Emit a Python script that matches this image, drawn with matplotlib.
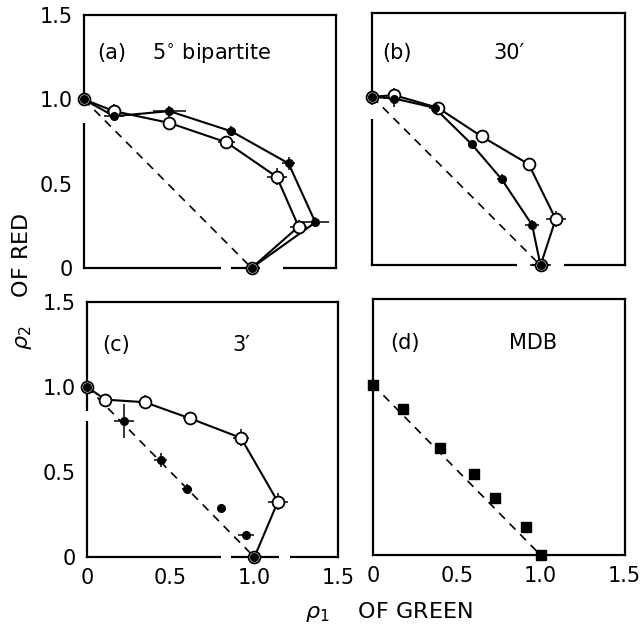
import numpy as np
import matplotlib.pyplot as plt

# (a) 5 deg bipartite
a_fill_x = [0.0, 0.18, 0.51, 0.88, 1.22, 1.38, 1.0]
a_fill_y = [1.0, 0.90, 0.93, 0.81, 0.62, 0.27, 0.0]
a_fill_xerr = [0.03, 0.06, 0.10, 0.03, 0.04, 0.08, 0.03]
a_fill_yerr = [0.03, 0.03, 0.03, 0.03, 0.04, 0.03, 0.0]
a_open_x = [0.0, 0.18, 0.51, 0.85, 1.15, 1.28, 1.0]
a_open_y = [1.0, 0.93, 0.86, 0.745, 0.54, 0.245, 0.0]
a_open_xerr = [0.0, 0.04, 0.04, 0.05, 0.06, 0.05, 0.03]
a_open_yerr = [0.0, 0.04, 0.04, 0.04, 0.05, 0.04, 0.02]

# (b) 30'
b_fill_x = [0.0, 0.13, 0.37, 0.59, 0.77, 0.95, 1.0]
b_fill_y = [1.0, 0.99, 0.935, 0.72, 0.51, 0.24, 0.0]
b_fill_xerr = [0.04, 0.03, 0.03, 0.02, 0.03, 0.04, 0.06]
b_fill_yerr = [0.05, 0.05, 0.02, 0.02, 0.03, 0.03, 0.03]
b_open_x = [0.0, 0.13, 0.39, 0.65, 0.93, 1.09, 1.0]
b_open_y = [1.0, 1.01, 0.935, 0.765, 0.60, 0.275, 0.0]
b_open_xerr = [0.0, 0.03, 0.02, 0.02, 0.02, 0.06, 0.05]
b_open_yerr = [0.0, 0.04, 0.02, 0.02, 0.02, 0.05, 0.03]

# (c) 3'
c_fill_x = [0.0, 0.22, 0.44, 0.60, 0.80, 0.95, 1.0]
c_fill_y = [1.0, 0.80, 0.57, 0.40, 0.29, 0.13, 0.0]
c_fill_xerr = [0.02, 0.06, 0.04, 0.03, 0.0, 0.05, 0.05]
c_fill_yerr = [0.02, 0.10, 0.04, 0.03, 0.0, 0.02, 0.0]
c_open_x = [0.0, 0.11, 0.345, 0.615, 0.92, 1.14, 1.0]
c_open_y = [1.0, 0.925, 0.91, 0.815, 0.70, 0.325, 0.0]
c_open_xerr = [0.0, 0.02, 0.04, 0.04, 0.05, 0.06, 0.0]
c_open_yerr = [0.0, 0.02, 0.04, 0.04, 0.05, 0.05, 0.0]

# (d) MDB
d_x = [0.0, 0.18, 0.40, 0.60, 0.73, 0.91, 1.0]
d_y = [1.0, 0.855, 0.63, 0.475, 0.335, 0.165, 0.0]
d_xerr = [0.0, 0.02, 0.0, 0.0, 0.0, 0.02, 0.0]
d_yerr = [0.0, 0.02, 0.0, 0.0, 0.0, 0.02, 0.0]

ticks = [0, 0.5, 1.0, 1.5]
tick_labels = ['0', '0.5', '1.0', '1.5']

plt.rcParams['font.family'] = ['DejaVu Sans']

fig = plt.figure(figsize=(6.44, 6.26), dpi=100)
fig.patch.set_facecolor('white')


def setup(ax, xlab, ylab, left_gaps=(), bottom_gaps=()):
    ax.set_xlim(0, 1.5)
    ax.set_ylim(0, 1.5)
    for s in ax.spines.values():
        s.set_linewidth(1.6)
    ax.set_xticks(ticks)
    ax.set_yticks(ticks)
    ax.set_xticks([0.5, 1.0], minor=True)
    ax.set_yticks([0.5, 1.0], minor=True)
    ax.tick_params(which='major', length=0, labelsize=15, pad=8)
    ax.tick_params(which='minor', direction='in', length=9, width=1.6,
                   top=True, right=True)
    if xlab:
        ax.set_xticklabels(tick_labels)
    else:
        ax.set_xticklabels([])
    if ylab:
        ax.set_yticklabels(tick_labels)
    else:
        ax.set_yticklabels([])
    # breaks in the printed axis lines
    for g0, g1 in left_gaps:
        ax.plot([0, 0], [g0, g1], color='white', lw=3, zorder=2.55,
                clip_on=False, solid_capstyle='butt')
    for g0, g1 in bottom_gaps:
        ax.plot([g0, g1], [0, 0], color='white', lw=3, zorder=2.55,
                clip_on=False, solid_capstyle='butt')
    # diagonal reference line
    ax.plot([0, 1], [1, 0], ls=(0, (5, 4)), color='black', lw=1.2, zorder=1)


def pts(ax, x, y, xerr, yerr, filled, line=True):
    if line:
        ax.plot(x, y, color='black', lw=1.5, zorder=2.7, clip_on=False)
    ax.errorbar(x, y, xerr=xerr, yerr=yerr, fmt='none', ecolor='black',
                elinewidth=1.1, capsize=0, zorder=2.8, clip_on=False)
    if filled:
        ax.plot(x, y, 'o', ms=5.5, color='black', zorder=4, clip_on=False)
    else:
        ax.plot(x, y, 'o', ms=8.5, mfc='white', mec='black', mew=1.3,
                zorder=3, clip_on=False)


ax_a = fig.add_axes([0.130, 0.572, 0.391, 0.404])
setup(ax_a, False, True, left_gaps=[(0.86, 0.97)],
      bottom_gaps=[(0.82, 0.88), (1.05, 1.19)])
pts(ax_a, a_open_x, a_open_y, a_open_xerr, a_open_yerr, False)
pts(ax_a, a_fill_x, a_fill_y, a_fill_xerr, a_fill_yerr, True)
ax_a.text(0.055, 0.85, '(a)', transform=ax_a.transAxes, fontsize=15, va='center')
ax_a.text(0.27, 0.85, '5$^{\\circ}$ bipartite', transform=ax_a.transAxes,
          fontsize=15, va='center')

ax_b = fig.add_axes([0.578, 0.576, 0.392, 0.404])
setup(ax_b, False, False, left_gaps=[(0.87, 0.97)],
      bottom_gaps=[(0.86, 0.95), (1.04, 1.14)])
pts(ax_b, b_open_x, b_open_y, b_open_xerr, b_open_yerr, False)
pts(ax_b, b_fill_x, b_fill_y, b_fill_xerr, b_fill_yerr, True)
ax_b.text(0.04, 0.84, '(b)', transform=ax_b.transAxes, fontsize=15, va='center')
ax_b.text(0.48, 0.84, "30\u2032", transform=ax_b.transAxes, fontsize=15, va='center')

ax_c = fig.add_axes([0.135, 0.110, 0.390, 0.408])
setup(ax_c, True, True, left_gaps=[(0.80, 0.86)],
      bottom_gaps=[(0.80, 0.86), (1.15, 1.21)])
pts(ax_c, c_open_x, c_open_y, c_open_xerr, c_open_yerr, False)
pts(ax_c, c_fill_x, c_fill_y, c_fill_xerr, c_fill_yerr, True, line=False)
ax_c.text(0.06, 0.83, '(c)', transform=ax_c.transAxes, fontsize=15, va='center')
ax_c.text(0.58, 0.83, "3\u2032", transform=ax_c.transAxes, fontsize=15, va='center')

ax_d = fig.add_axes([0.579, 0.113, 0.391, 0.409])
setup(ax_d, True, False)
ax_d.errorbar(d_x, d_y, xerr=d_xerr, yerr=d_yerr, fmt='none', ecolor='black',
              elinewidth=1.1, capsize=0, zorder=2.8, clip_on=False)
ax_d.plot(d_x, d_y, 's', ms=6.5, color='black', zorder=4, clip_on=False)
ax_d.text(0.07, 0.83, '(d)', transform=ax_d.transAxes, fontsize=15, va='center')
ax_d.text(0.54, 0.83, 'MDB', transform=ax_d.transAxes, fontsize=15, va='center')

fig.text(0.604, 0.022, r'$\rho_1$    OF GREEN', fontsize=16, ha='center', va='center')
fig.text(0.034, 0.55, r'$\rho_2$    OF RED', fontsize=16, ha='center', va='center',
         rotation=90)

fig.savefig('out.png', dpi=100, facecolor='white')
